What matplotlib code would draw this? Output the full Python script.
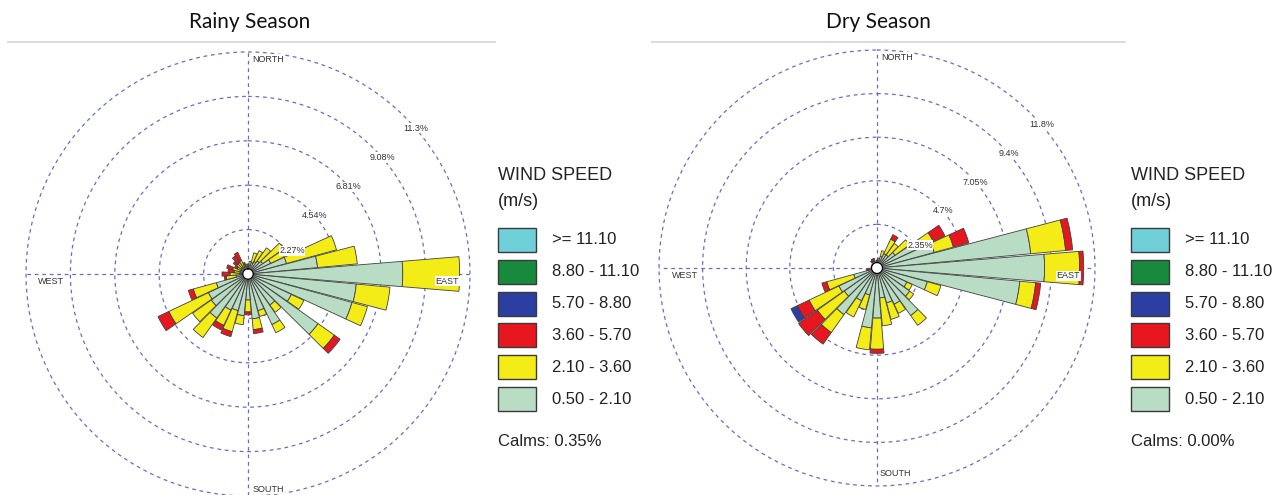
import numpy as np
import matplotlib.pyplot as plt
from matplotlib.patches import Rectangle

plt.rcParams["font.family"] = ["Liberation Sans", "DejaVu Sans"]

W, H = 1285, 495

# sector centres, compass degrees (0 = north, clockwise)
directions = np.arange(0, 360, 10)

# rainy season: frequency (%) per wind speed class and direction
rainy_050_210 = [0.41, 0.46, 0.61, 0.71, 0.82, 0.92, 1.28, 2.04, 3.57, 7.91, 5.56, 5.51,
                 2.45, 4.39, 1.94, 2.86, 1.94, 2.30, 1.33, 2.14, 1.94, 2.04, 2.76, 2.30,
                 2.24, 1.68, 0.61, 0.41, 0.41, 0.41, 0.41, 0.41, 0.41, 0.41, 0.41, 0.41]
rainy_210_360 = [0.10, 0.20, 0.51, 0.61, 0.82, 1.33, 0.77, 2.65, 2.04, 2.91, 1.73, 0.82,
                 0.71, 1.02, 0.46, 0.46, 0.31, 0.56, 0.61, 0.46, 1.12, 0.87, 1.22, 1.17,
                 2.24, 1.22, 0.51, 0.51, 0.31, 0.41, 0.20, 0.31, 0.31, 0.36, 0.10, 0.10]
rainy_360_570 = [0.00, 0.00, 0.00, 0.00, 0.00, 0.00, 0.00, 0.00, 0.00, 0.00, 0.00, 0.00,
                 0.00, 0.36, 0.00, 0.00, 0.00, 0.20, 0.15, 0.00, 0.26, 0.26, 0.00, 0.00,
                 0.61, 0.26, 0.10, 0.41, 0.31, 0.31, 0.15, 0.20, 0.41, 0.46, 0.10, 0.00]
rainy_570_880 = [0.0] * 36

# dry season
dry_050_210 = [0.32, 0.43, 0.65, 0.86, 0.86, 1.19, 2.43, 3.19, 8.32, 9.03, 7.73, 2.81,
               1.78, 2.16, 3.14, 2.16, 1.95, 1.62, 2.70, 3.24, 1.51, 1.95, 3.08, 2.16,
               2.27, 1.30, 0.32, 0.27, 0.27, 0.27, 0.27, 0.27, 0.27, 0.27, 0.27, 0.27]
dry_210_360 = [0.11, 0.11, 0.32, 0.86, 0.76, 0.97, 0.92, 1.08, 1.89, 1.89, 0.86, 0.76,
               0.32, 0.27, 0.65, 0.54, 0.92, 1.51, 1.68, 1.19, 0.81, 0.97, 1.19, 1.78,
               1.78, 1.51, 0.11, 0.05, 0.05, 0.05, 0.05, 0.05, 0.11, 0.11, 0.11, 0.05]
dry_360_570 = [0.00, 0.00, 0.00, 0.27, 0.00, 0.00, 0.70, 0.86, 0.38, 0.22, 0.27, 0.00,
               0.00, 0.00, 0.00, 0.00, 0.00, 0.00, 0.22, 0.00, 0.00, 0.00, 0.76, 1.24,
               0.70, 0.27, 0.16, 0.00, 0.00, 0.00, 0.00, 0.00, 0.11, 0.16, 0.16, 0.00]
dry_570_880 = [0.00] * 24 + [0.38] + [0.00] * 11

rainy_rings = [2.27, 4.54, 6.81, 9.08, 11.35]
rainy_ring_labels = ["2.27%", "4.54%", "6.81%", "9.08%", "11.3%"]
dry_rings = [2.35, 4.70, 7.05, 9.40, 11.75]
dry_ring_labels = ["2.35%", "4.7%", "7.05%", "9.4%", "11.8%"]

class_labels = [">= 11.10", "8.80 - 11.10", "5.70 - 8.80",
                "3.60 - 5.70", "2.10 - 3.60", "0.50 - 2.10"]
class_colors = ["#6fd0da", "#178a3e", "#2b3fa3", "#e8161e", "#f3ec17", "#b9dcc5"]

grid_kw = dict(color="#6c6cc4", lw=0.9, ls=(0, (3, 3)))


def fx(x):
    return x / W


def fy(y):
    return 1 - y / H


def rose(cx, cy, rad, rings, ring_labels, stacks, calm_r):
    ax = fig.add_axes([fx(cx - rad), fy(cy + rad), 2 * rad / W, 2 * rad / H],
                      projection="polar")
    ax.set_theta_zero_location("N")
    ax.set_theta_direction(-1)
    ax.set_ylim(0, rings[-1])
    ax.spines["polar"].set_visible(False)
    ax.set_rticks(rings[:-1])
    ax.set_yticklabels([])
    ax.set_thetagrids([0, 90, 180, 270], labels=[""] * 4)
    ax.grid(True, **grid_kw)
    tc = np.linspace(0, 2 * np.pi, 300)
    ax.plot(tc, np.full_like(tc, rings[-1]), clip_on=False, **grid_kw)

    theta = np.deg2rad(directions)
    bottom = np.zeros(len(directions))
    for vals, col in stacks:
        vals = np.asarray(vals)
        m = vals > 0
        ax.bar(theta[m], vals[m], width=np.deg2rad(9.4), bottom=bottom[m],
               color=col, edgecolor="#404040", linewidth=0.6, zorder=3)
        bottom = bottom + vals

    ax.fill(tc, np.full_like(tc, calm_r), color="white", zorder=5)
    ax.plot(tc, np.full_like(tc, calm_r), color="black", lw=1, zorder=6)

    for i, (r, lab) in enumerate(zip(rings, ring_labels)):
        ang = 62 if i == 0 else 49
        rr = r * 1.12 if i == 0 else r
        ax.text(np.deg2rad(ang), rr, lab, fontsize=6.5, ha="center", va="center",
                color="#333333", zorder=7,
                bbox=dict(fc="white", ec="none", pad=0.4))
    return ax


fig = plt.figure(figsize=(W / 100, H / 100), dpi=100)

rose(248, 274, 222, rainy_rings, rainy_ring_labels,
     [(rainy_050_210, class_colors[5]), (rainy_210_360, class_colors[4]),
      (rainy_360_570, class_colors[3]), (rainy_570_880, class_colors[2])], 0.27)
rose(877, 268, 218, dry_rings, dry_ring_labels,
     [(dry_050_210, class_colors[5]), (dry_210_360, class_colors[4]),
      (dry_360_570, class_colors[3]), (dry_570_880, class_colors[2])], 0.30)

# compass labels
small = dict(fontsize=6.5, color="#333333", va="center")
for x, y, s, ha in [(252, 59, "NORTH", "left"), (253, 489, "SOUTH", "left"),
                    (38, 282, "WEST", "left"), (459, 281, "EAST", "right"),
                    (881, 57, "NORTH", "left"), (880, 473, "SOUTH", "left"),
                    (672, 276, "WEST", "left"), (1080, 276, "EAST", "right")]:
    fig.text(fx(x), fy(y), s, ha=ha, zorder=10,
             bbox=dict(fc="white", ec="none", pad=0.5), **small)

# titles with rule underneath
for x, s, x0, x1 in [(250, "Rainy Season", 8, 495), (878, "Dry Season", 652, 1125)]:
    fig.text(fx(x), fy(22), s, fontsize=15, family=["Lato", "DejaVu Sans"],
             ha="center", va="center", color="#111111")
    fig.add_artist(plt.Line2D([fx(x0), fx(x1)], [fy(42), fy(42)],
                              color="#d4d4d4", lw=1.2))

# legends
for lx, ty, calm in [(498, 175, "Calms: 0.35%"), (1131, 175, "Calms: 0.00%")]:
    fig.text(fx(lx), fy(ty), "WIND SPEED", fontsize=13, va="center", color="#222222")
    fig.text(fx(lx), fy(ty + 26), "(m/s)", fontsize=13, va="center", color="#222222")
    for i, (lab, col) in enumerate(zip(class_labels, class_colors)):
        yc = ty + 65 + i * 31.8
        fig.add_artist(Rectangle((fx(lx), fy(yc + 12)), 38 / W, 24 / H,
                                 transform=fig.transFigure, fc=col,
                                 ec="#3a3a3a", lw=1.0))
        fig.text(fx(lx + 54), fy(yc), lab, fontsize=12, va="center", color="#222222")
    fig.text(fx(lx), fy(ty + 266), calm, fontsize=12, va="center", color="#222222")

fig.savefig("out.png", dpi=100, facecolor="white")
